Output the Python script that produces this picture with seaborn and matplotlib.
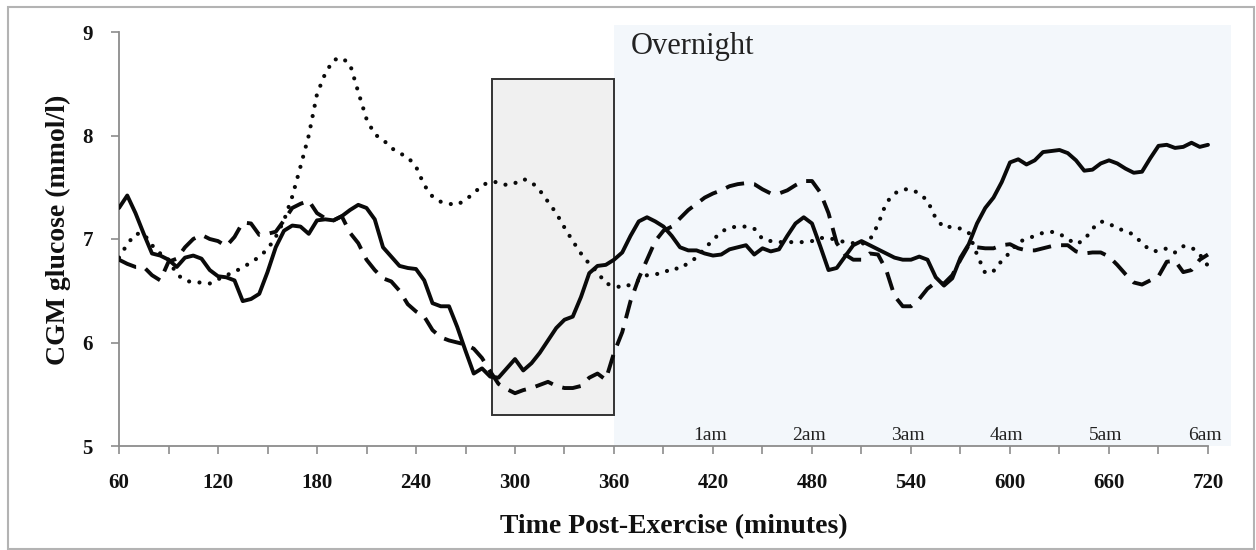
import matplotlib
matplotlib.use("Agg")
import matplotlib.pyplot as plt
from matplotlib.patches import Rectangle
import pandas as pd
import seaborn as sns

# CGM readings every 5 minutes after exercise (mmol/l)
minutes = list(range(60, 725, 5))

glucose_solid = [
    7.30, 7.42, 7.25, 7.05, 6.86, 6.84, 6.80, 6.73, 6.82, 6.84,
    6.81, 6.70, 6.64, 6.63, 6.60, 6.40, 6.42, 6.47, 6.68, 6.92,
    7.08, 7.13, 7.12, 7.05, 7.18, 7.19, 7.18, 7.22, 7.28, 7.33,
    7.30, 7.19, 6.92, 6.83, 6.74, 6.72, 6.71, 6.60, 6.38, 6.35,
    6.35, 6.15, 5.92, 5.70, 5.75, 5.67, 5.66, 5.75, 5.84, 5.73,
    5.80, 5.90, 6.02, 6.14, 6.22, 6.25, 6.44, 6.67, 6.74, 6.75,
    6.80, 6.87, 7.03, 7.17, 7.21, 7.17, 7.12, 7.03, 6.92, 6.89,
    6.89, 6.86, 6.84, 6.85, 6.90, 6.92, 6.94, 6.85, 6.91, 6.88,
    6.90, 7.03, 7.15, 7.21, 7.15, 6.93, 6.70, 6.72, 6.83, 6.94,
    6.98, 6.94, 6.90, 6.86, 6.82, 6.80, 6.80, 6.83, 6.80, 6.63,
    6.55, 6.62, 6.82, 6.95, 7.15, 7.30, 7.40, 7.55, 7.74, 7.77,
    7.72, 7.76, 7.84, 7.85, 7.86, 7.83, 7.76, 7.66, 7.67, 7.73,
    7.76, 7.73, 7.68, 7.64, 7.65, 7.78, 7.90, 7.91, 7.88, 7.89,
    7.93, 7.89, 7.91,
]

glucose_dashed = [
    6.80, 6.76, 6.73, 6.73, 6.65, 6.60, 6.78, 6.81, 6.92, 7.00,
    7.04, 7.00, 6.98, 6.93, 7.02, 7.16, 7.15, 7.04, 7.05, 7.07,
    7.18, 7.30, 7.34, 7.37, 7.25, 7.20, 7.18, 7.22, 7.06, 6.96,
    6.80, 6.70, 6.62, 6.59, 6.50, 6.37, 6.30, 6.25, 6.12, 6.05,
    6.02, 6.00, 5.98, 5.94, 5.85, 5.72, 5.60, 5.55, 5.51, 5.54,
    5.56, 5.59, 5.62, 5.58, 5.56, 5.56, 5.58, 5.66, 5.70, 5.64,
    5.90, 6.10, 6.40, 6.62, 6.80, 6.98, 7.08, 7.12, 7.20, 7.28,
    7.34, 7.40, 7.44, 7.47, 7.51, 7.53, 7.54, 7.53, 7.48, 7.44,
    7.44, 7.47, 7.52, 7.56, 7.56, 7.45, 7.25, 6.96, 6.85, 6.80,
    6.80, 6.86, 6.85, 6.70, 6.45, 6.35, 6.35, 6.42, 6.52, 6.58,
    6.57, 6.65, 6.80, 6.94, 6.92, 6.91, 6.91, 6.94, 6.95, 6.91,
    6.89, 6.89, 6.91, 6.93, 6.94, 6.94, 6.88, 6.86, 6.87, 6.87,
    6.83, 6.75, 6.66, 6.58, 6.56, 6.60, 6.64, 6.78, 6.79, 6.68,
    6.70, 6.80, 6.85,
]

glucose_dotted = [
    6.82, 6.95, 7.05, 7.05, 6.94, 6.86, 6.80, 6.66, 6.60, 6.58,
    6.58, 6.57, 6.61, 6.65, 6.68, 6.73, 6.77, 6.83, 6.90, 7.02,
    7.18, 7.41, 7.70, 8.00, 8.40, 8.60, 8.73, 8.75, 8.69, 8.42,
    8.16, 8.01, 7.96, 7.88, 7.83, 7.79, 7.70, 7.52, 7.41, 7.36,
    7.34, 7.33, 7.38, 7.44, 7.52, 7.55, 7.55, 7.52, 7.54, 7.58,
    7.55, 7.47, 7.36, 7.25, 7.11, 6.98, 6.86, 6.76, 6.68, 6.57,
    6.55, 6.53, 6.56, 6.60, 6.65, 6.66, 6.67, 6.72, 6.71, 6.77,
    6.82, 6.91, 6.99, 7.07, 7.11, 7.12, 7.12, 7.10, 7.00, 6.98,
    6.97, 6.97, 6.97, 6.97, 6.98, 7.01, 7.01, 6.99, 6.97, 6.96,
    6.95, 6.99, 7.14, 7.35, 7.44, 7.48, 7.48, 7.44, 7.37, 7.20,
    7.11, 7.12, 7.10, 7.06, 6.85, 6.67, 6.69, 6.79, 6.87, 6.97,
    7.00, 7.03, 7.06, 7.07, 7.05, 7.00, 6.95, 6.99, 7.10, 7.17,
    7.15, 7.10, 7.08, 7.04, 6.96, 6.89, 6.88, 6.91, 6.87, 6.93,
    6.92, 6.85, 6.74,
]

x_tick_values = list(range(60, 721, 60))
x_minor_ticks = list(range(90, 721, 60))
y_tick_values = [5, 6, 7, 8, 9]
clock_minutes = [420, 480, 540, 600, 660, 720]
clock_labels = ["1am", "2am", "3am", "4am", "5am", "6am"]

sns.set_style("white")
plt.rcParams["font.family"] = ["Liberation Serif", "DejaVu Serif"]

W, H = 1256, 550
fig = plt.figure(figsize=(W / 100, H / 100), dpi=100)
fig.patch.set_facecolor("white")

# plot area in pixels: x=60 at 119 px (1.65 px/min), y=5 at 446 px (103.5 px/unit)
ax = fig.add_axes([119 / W, 1 - 446 / H, 1112 / W, 421 / H])
x_end = 60 + 1112 / 1.65
ax.set_xlim(60, x_end)
ax.set_ylim(5, 5 + 421 / 103.5)
ax.set_facecolor("white")

# overnight period and post-dinner window
ax.axvspan(360, x_end, color="#F3F7FB", lw=0, zorder=0)
ax.add_patch(Rectangle((286, 5.3), 360 - 286, 8.55 - 5.3,
                       facecolor="#F0F0F0", edgecolor="#333333",
                       lw=1.4, zorder=1))

df = pd.DataFrame({"minute": minutes,
                   "solid": glucose_solid,
                   "dashed": glucose_dashed,
                   "dotted": glucose_dotted})

sns.lineplot(data=df, x="minute", y="dotted", ax=ax, color="#0a0a0a",
             lw=3.0, zorder=3)
ax.lines[-1].set_linestyle((0, (0.01, 2.5)))
ax.lines[-1].set_dash_capstyle("round")

sns.lineplot(data=df, x="minute", y="dashed", ax=ax, color="#0a0a0a",
             lw=2.8, zorder=3)
ax.lines[-1].set_linestyle((0, (4.8, 2.6)))

sns.lineplot(data=df, x="minute", y="solid", ax=ax, color="#0a0a0a",
             lw=2.8, zorder=4)
ax.lines[-1].set_solid_joinstyle("round")

# annotations
ax.text(370, 8.86, "Overnight", fontsize=22, ha="left", va="center",
        color="#222222", zorder=5)
for m, lab in zip(clock_minutes, clock_labels):
    ax.text(m - 2, 5.10, lab, fontsize=14, ha="center", va="center",
            color="#222222", zorder=5)

# axes styling
for side in ("top", "right"):
    ax.spines[side].set_visible(False)
for side in ("left", "bottom"):
    ax.spines[side].set_color("#8c8c8c")
    ax.spines[side].set_linewidth(1.3)
ax.spines["left"].set_bounds(5, 9)
ax.spines["bottom"].set_bounds(60, 720)

ax.set_xticks(x_tick_values)
ax.set_xticks(x_minor_ticks, minor=True)
ax.set_yticks(y_tick_values)
ax.set_xticklabels([str(v) for v in x_tick_values])
ax.set_yticklabels([str(v) for v in y_tick_values])
ax.tick_params(axis="both", which="both", direction="out", length=5.8,
               width=1.2, color="#8c8c8c", bottom=True, left=True)
ax.tick_params(axis="x", which="major", pad=14, labelsize=15)
ax.tick_params(axis="y", which="major", pad=13, labelsize=15)
for lab in ax.get_xticklabels() + ax.get_yticklabels():
    lab.set_fontweight("bold")
    lab.set_color("#111111")

ax.set_xlabel("Time Post-Exercise (minutes)", fontsize=20,
              fontweight="bold", color="#111111")
ax.xaxis.set_label_coords(0.4985, -0.1924)
ax.xaxis.label.set_va("center")
ax.set_ylabel("CGM glucose (mmol/l)", fontsize=20, fontweight="bold",
              color="#111111")
ax.yaxis.set_label_coords(-0.0549, 0.513)
ax.yaxis.label.set_va("center")

# thin frame round the whole figure
fig.add_artist(Rectangle((8 / W, 1 / H), (1254 - 8) / W, (549 - 7) / H,
                         transform=fig.transFigure, fill=False,
                         edgecolor="#b3b3b3", lw=1.5))

fig.savefig("out.png", dpi=100)
